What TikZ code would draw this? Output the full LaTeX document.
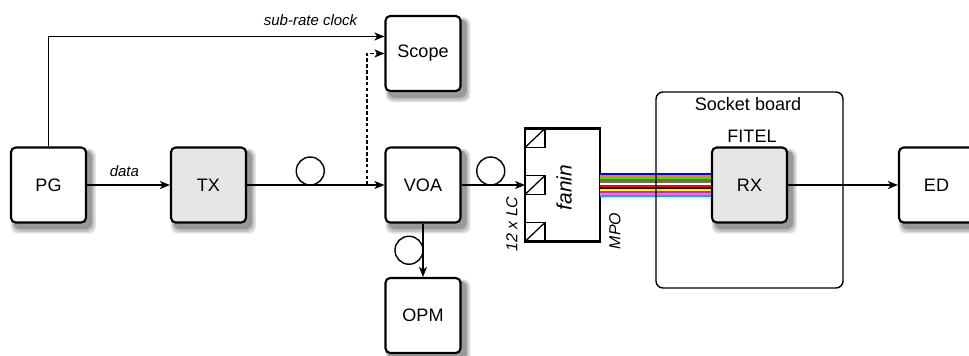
\documentclass[tikz,border=0pt]{standalone}
\usepackage{fontspec}
\setmainfont{Liberation Sans}
\usepackage{tikz}
\usetikzlibrary{arrows.meta,positioning,backgrounds}
\definecolor{boxgray}{RGB}{230,230,230}
\definecolor{fbrown}{RGB}{140,90,50}
\definecolor{fslate}{RGB}{110,110,110}
\definecolor{fviolet}{RGB}{190,40,230}
\definecolor{frose}{RGB}{255,110,210}

\begin{document}
\begin{tikzpicture}[
  x=0.3cm, y=-0.3cm,
  font=\fontsize{15.4pt}{18pt}\selectfont,
  blk/.style={rounded corners=4pt,draw,line width=1.8pt,fill=white,minimum width=2.25cm,minimum height=2.25cm,align=center},
  gblk/.style={blk,fill=boxgray},
  shd/.style={rounded corners=6pt},
  fanbox/.style={draw,line width=2pt,minimum width=2.25cm,minimum height=3.39cm,inner sep=0pt,outer sep=0pt},
  board/.style={draw,rounded corners=6pt,line width=1.2pt,minimum width=5.61cm,minimum height=5.88cm},
  port/.style={draw,line width=1.1pt,minimum width=0.6cm,minimum height=0.57cm,inner sep=0pt,outer sep=0pt},
  coil/.style={circle,draw,line width=1.2pt,minimum size=0.84cm,inner sep=0pt,outer sep=0pt},
  arr/.style={-{Stealth[length=3mm,width=2.4mm,inset=0.8mm]},line width=1.3pt},
  dsh/.style={dash pattern=on 3pt off 2pt},
  fib/.style={line width=0.06cm},
  lbl/.style={font=\fontsize{12.8pt}{15pt}\selectfont\itshape,inner sep=0pt},
  rlbl/.style={font=\fontsize{13.6pt}{16pt}\selectfont\itshape,inner sep=0pt,rotate=90},
  ]
  \useasboundingbox (0,0) rectangle (96.9,35.6);
  \node[blk]  (pg)    at (4.85,18.5)  {PG};
  \node[gblk] (tx)    at (20.85,18.5) {TX};
  \node[blk]  (voa)   at (42.3,18.5)  {VOA};
  \node[blk]  (scope) at (42.3,5.35)  {Scope};
  \node[blk]  (opm)   at (42.3,31.55) {OPM};
  \node[fanbox] (fanin) at (56.25,18.5) {};
  \node[port,anchor=north west] (p1) at (fanin.north west) {};
  \node[port,anchor=west]       (p2) at (fanin.west) {};
  \node[port,anchor=south west] (p3) at (fanin.south west) {};
  \foreach \p in {p1,p2,p3}
    \draw[line width=1.1pt] (\p.south west) -- (\p.north east);
  \node[rlbl,font=\fontsize{17.9pt}{20pt}\selectfont\itshape] (fanlbl) at (56.4,18.75) {fanin};
  \node[rlbl] (lclbl)  at (51.2,22.4) {12 x LC};
  \node[rlbl] (mpolbl) at (61.5,23.1) {MPO};
  \node[gblk] (rx)    at (74.95,18.5) {RX};
  \node[blk]  (ed)    at (93.65,18.5) {ED};
  \node (fitel)    at (75.2,13.65) {FITEL};
  % soft shadows behind the boxes
  \begin{pgfonlayer}{background}
    \foreach \n in {pg,tx,voa,scope,opm,rx,ed} {
      \fill[shd,black!12] ([shift={(1pt,-8.5pt)}]\n.south west) rectangle ([shift={(7.5pt,-2pt)}]\n.north east);
      \fill[shd,black!24] ([shift={(2pt,-7pt)}]\n.south west) rectangle ([shift={(6pt,-3pt)}]\n.north east);
      \fill[shd,black!40] ([shift={(3pt,-5pt)}]\n.south west) rectangle ([shift={(4.5pt,-3.5pt)}]\n.north east);
    }
  \end{pgfonlayer}
  % 12 fibres of the MPO cable
  \foreach \c [count=\i] in {blue,orange,green,fbrown,fslate,white,red,black,yellow,fviolet,frose,cyan}
    \draw[fib,\c] ([yshift={(13-2*\i)*0.03cm}]fanin.east) -- ([yshift={(13-2*\i)*0.03cm}]rx.west);
  \node[board] (sock) at (74.95,19.0) {};
  \node (socklbl) at (74.8,10.4) {Socket board};
  \coordinate (tap) at (36.7,18.5);
  \draw[arr] (pg.east) -- node[lbl,above=0.24cm,pos=0.45] (datalbl) {data} (tx.west);
  \draw[arr] (pg.north) |- node[lbl,above=0.3cm,pos=0.89] (clklbl) {sub-rate clock} ([yshift=0.51cm]scope.west);
  \draw[arr] (tx.east) -- node[coil,pos=0.46,anchor=south] (c1) {} (voa.west);
  \draw[arr,dsh] (tap) |- (scope.west);
  \draw[arr] (voa.east) -- node[coil,pos=0.46,anchor=south] (c2) {} (p2.west);
  \draw[arr] (voa.south) -- node[coil,pos=0.5,anchor=east] (c3) {} (opm.north);
  \draw[arr] (rx.east) -- (ed.west);
\end{tikzpicture}
\end{document}
